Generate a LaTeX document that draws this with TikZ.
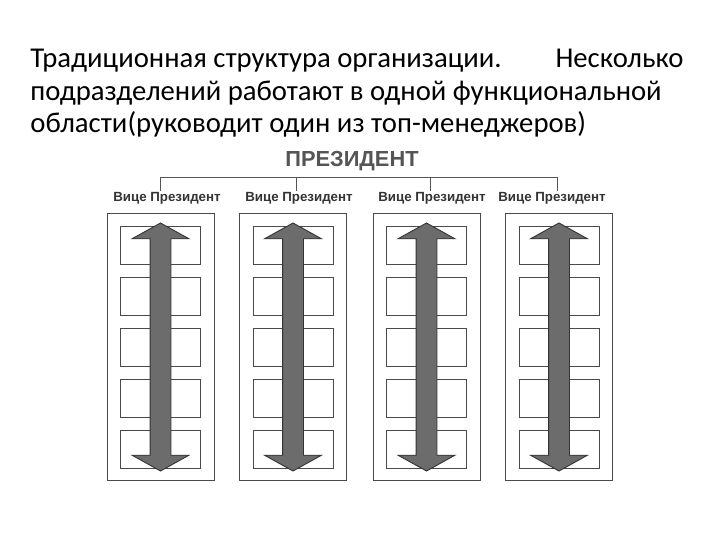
\documentclass[tikz,border=0pt]{standalone}
\usepackage{fontspec}
\setmainfont{Carlito}
\newfontfamily\chartfont{Liberation Sans}
\usetikzlibrary{shapes.arrows}
\definecolor{cline}{HTML}{4A4A4A}
\definecolor{carrow}{HTML}{6C6C6C}
\definecolor{ctext}{HTML}{333333}
\definecolor{chead}{HTML}{555555}
\tikzset{
  every picture/.style={line width=0.9pt},
  column/.style={draw=cline, minimum width=107pt, minimum height=267pt, inner sep=0pt},
  unit/.style={draw=cline, minimum width=80pt, minimum height=38pt, inner sep=0pt},
  updown/.style={double arrow, draw=black!80, fill=carrow, rotate=90, inner sep=10pt,
    minimum height=248pt, double arrow head extend=18pt, double arrow tip angle=122},
  vp/.style={font=\chartfont\bfseries\fontsize{13.3}{15}\selectfont, text=ctext, inner sep=1pt},
  boss/.style={font=\chartfont\bfseries\fontsize{21.8}{24}\selectfont, text=chead, inner sep=1pt},
  tree/.style={draw=chead, line width=0.8pt},
  title/.style={font=\fontsize{28.7}{32.5}\selectfont, align=left, inner sep=0pt},
}
\begin{document}
\begin{tikzpicture}[x=1pt, y=-1pt]
  \useasboundingbox[fill=white] (0,0) rectangle (720,540);
  \node[title, anchor=base west] (caption) at (30,133)
    {\hbox to 653pt{Традиционная структура организации.\hfill Несколько}\\
     подразделений работают в одной функциональной\\
     области(руководит один из топ-менеджеров)};
  \node[boss] (pres) at (352,161) {ПРЕЗИДЕНТ};
  \foreach \i/\x/\vx/\tx in {1/160.5/167/160, 2/293/299/296, 3/426.5/432/430, 4/559/552/557} {
    \node[vp] (vp\i) at (\vx,198) {Вице Президент};
    \coordinate (t\i) at (\tx,177);
    \draw[tree] (t\i) -- (t\i |- vp\i.north);
    \node[column] (col\i) at (\x,347) {};
    \foreach \k in {1,...,5} {\node[unit] (u\i\k) at (\x,{245+51*(\k-1)}) {};}
    \node[updown] (arr\i) at (\x,347) {};
  }
  \draw[tree] (t1) -- (t4);
\end{tikzpicture}
\end{document}
